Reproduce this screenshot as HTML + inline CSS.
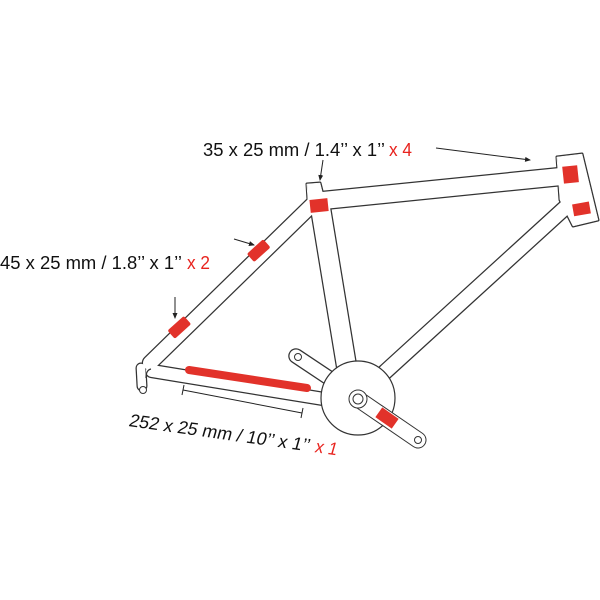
<!DOCTYPE html>
<html><head><meta charset="utf-8"><style>html,body{margin:0;padding:0;background:#fff}svg{display:block}</style></head>
<body>
<svg width="600" height="600" viewBox="0 0 600 600" xmlns="http://www.w3.org/2000/svg">
<defs>
<marker id="ah" markerWidth="6" markerHeight="6" refX="5" refY="3" orient="auto" markerUnits="userSpaceOnUse"><path d="M0,0.5 L6,3 L0,5.5 z" fill="#222"/></marker>
</defs>
<g stroke-linejoin="round" stroke-linecap="round" fill="none">
  <g stroke="#333">
    <path d="M318,201 L566,176" stroke-width="19.5"/>
    <path d="M314,203 L150,363" stroke-width="16.5"/>
    <path d="M152,371 L336,401" stroke-width="14.5"/>
    <path d="M320,205 L348,375" stroke-width="21.5"/>
    <path d="M567,206 L385,372" stroke-width="16.5"/>
    <path d="M296,356 L350,392" stroke-width="15.5"/>
    <path d="M141,368 L142,386" stroke-width="11"/>
  </g>
  <polygon points="557,157 582,154 598,220 573,226 560,200" fill="#333" stroke="#333" stroke-width="3"/>
  <polygon points="307,184 320,183 323,195 308,200" fill="#333" stroke="#333" stroke-width="3"/>
  <g stroke="#fff">
    <path d="M318,201 L566,176" stroke-width="17"/>
    <path d="M314,203 L150,363" stroke-width="14"/>
    <path d="M152,371 L336,401" stroke-width="12"/>
    <path d="M320,205 L348,375" stroke-width="19"/>
    <path d="M567,206 L385,372" stroke-width="14"/>
    <path d="M296,356 L350,392" stroke-width="13"/>
    <path d="M141,368 L142,386" stroke-width="8.5"/>
  </g>
  <polygon points="557,157 582,154 598,220 573,226 560,200" fill="#fff" stroke="#fff" stroke-width="0.5"/>
  <polygon points="307,184 320,183 323,195 308,200" fill="#fff" stroke="#fff" stroke-width="0.5"/>
</g>
<path d="M146,378 Q146,370 151,369" stroke="#333" stroke-width="1.2" fill="none"/>
<circle cx="143" cy="390" r="3.5" fill="#fff" stroke="#333" stroke-width="1"/>
<circle cx="298" cy="357" r="3.5" fill="#fff" stroke="#333" stroke-width="1"/>
<circle cx="358" cy="398" r="37" fill="#fff" stroke="#333" stroke-width="1.2"/>
<path d="M358,399 L418,440" stroke="#333" stroke-width="17" stroke-linecap="round"/>
<path d="M358,399 L418,440" stroke="#fff" stroke-width="15" stroke-linecap="round"/>
<circle cx="358" cy="399" r="9" fill="#fff" stroke="#333" stroke-width="1"/>
<circle cx="358" cy="399" r="5" fill="#fff" stroke="#333" stroke-width="1"/>
<circle cx="418" cy="440" r="3.5" fill="#fff" stroke="#333" stroke-width="1"/>
<g fill="#e2322a">
  <rect x="310" y="199" width="18" height="13" transform="rotate(-6 319 205)"/>
  <rect x="563" y="166" width="15" height="17" transform="rotate(-6 570 174)"/>
  <rect x="573" y="203" width="17" height="12" transform="rotate(-10 581 209)"/>
  <rect x="248" y="245" width="22" height="11" rx="2" transform="rotate(-42 259 251)"/>
  <rect x="168" y="322" width="22" height="11" rx="2" transform="rotate(-42 179 327)"/>
  <rect x="377" y="412" width="20" height="12" transform="rotate(35 387 418)"/>
</g>
<path d="M189,370 L307,388" stroke="#e2322a" stroke-width="8" stroke-linecap="round"/>
<g stroke="#222" stroke-width="1" fill="none">
  <line x1="436" y1="148" x2="530" y2="160" marker-end="url(#ah)"/>
  <line x1="323" y1="160" x2="320" y2="180" marker-end="url(#ah)"/>
  <line x1="234" y1="239" x2="254" y2="245" marker-end="url(#ah)"/>
  <line x1="175" y1="297" x2="175" y2="318" marker-end="url(#ah)"/>
  <line x1="183" y1="390" x2="302" y2="413"/>
  <line x1="184" y1="385" x2="182" y2="395"/>
  <line x1="303" y1="408" x2="301" y2="418"/>
</g>
<g font-family="'Liberation Sans Narrow','Liberation Sans',sans-serif" font-size="18" fill="#111">
  <text x="203" y="156" textLength="182" lengthAdjust="spacingAndGlyphs">35 x 25 mm / 1.4’’ x 1’’</text>
  <text x="389" y="156" fill="#e8231e" textLength="23" lengthAdjust="spacingAndGlyphs">x 4</text>
  <text x="0" y="269" textLength="182" lengthAdjust="spacingAndGlyphs">45 x 25 mm / 1.8’’ x 1’’</text>
  <text x="187" y="269" fill="#e8231e" textLength="23" lengthAdjust="spacingAndGlyphs">x 2</text>
  <g transform="translate(128,426) rotate(8) skewX(-8)">
    <text x="0" y="0" textLength="182" lengthAdjust="spacingAndGlyphs">252 x 25 mm / 10’’ x 1’’</text>
    <text x="188" y="0" fill="#e8231e" textLength="22" lengthAdjust="spacingAndGlyphs">x 1</text>
  </g>
</g>
</svg>
</body></html>
